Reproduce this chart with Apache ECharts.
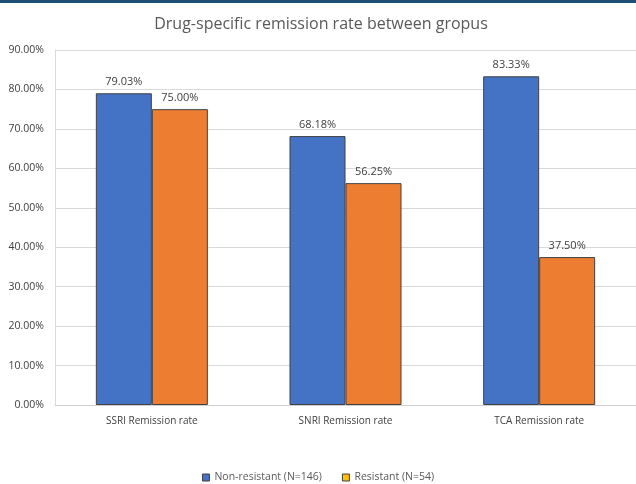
<!DOCTYPE html>
<html>
<head>
<meta charset="utf-8">
<script src="https://cdn.jsdelivr.net/npm/echarts@6/dist/echarts.min.js"></script>
<style>
  html, body { margin: 0; padding: 0; background: #ffffff; }
  #chart { width: 636px; height: 484px; }
</style>
</head>
<body>
<div id="chart"></div>
<script>
// Remission rate (%) per drug class, by resistance group
const categories = ['SSRI Remission rate', 'SNRI Remission rate', 'TCA Remission rate'];
const nonResistant = [79.03, 68.18, 83.33];
const resistant = [75.00, 56.25, 37.50];
const seriesNames = ['Non-resistant (N=146)', 'Resistant (N=54)'];
const yTicks = { min: 0, max: 90, step: 10 };

const FONT = '"Open Sans", "Noto Sans", sans-serif';
const chart = echarts.init(document.getElementById('chart'), null, { renderer: 'canvas' });

const labelStyle = {
  show: true,
  position: 'top',
  distance: 6,
  color: '#404040',
  fontSize: 11,
  fontFamily: FONT,
  formatter: p => p.value.toFixed(2) + '%'
};

chart.setOption({
  animation: false,
  backgroundColor: '#ffffff',
  textStyle: { fontFamily: FONT },
  graphic: [{
    type: 'rect',
    shape: { x: 0, y: 0, width: 636, height: 3 },
    style: { fill: '#1f4e79' }
  }],
  title: {
    text: 'Drug-specific remission rate between gropus',
    left: 316,
    textAlign: 'center',
    top: 11,
    textStyle: { color: '#595959', fontSize: 16, fontWeight: 'normal', fontFamily: FONT }
  },
  legend: {
    top: 467,
    left: 'center',
    itemWidth: 7,
    itemHeight: 7,
    itemGap: 20,
    icon: 'rect',
    textStyle: { color: '#595959', fontSize: 10.5, fontFamily: FONT },
    data: [
      { name: seriesNames[0], itemStyle: { color: '#4472c4', borderColor: '#404040', borderWidth: 1 } },
      { name: seriesNames[1], itemStyle: { color: '#ffc000', borderColor: '#404040', borderWidth: 1 } }
    ]
  },
  grid: { left: 55, right: -1, top: 50, bottom: 79, containLabel: false },
  xAxis: {
    type: 'category',
    data: categories,
    axisLine: { show: true, lineStyle: { color: '#d0d0d0', width: 1 } },
    axisTick: { show: false },
    axisLabel: { color: '#404040', fontSize: 10, margin: 11, fontFamily: FONT }
  },
  yAxis: {
    type: 'value',
    min: yTicks.min,
    max: yTicks.max,
    interval: yTicks.step,
    axisLine: { show: true, lineStyle: { color: '#d9d9d9', width: 1 } },
    axisTick: { show: false },
    splitLine: { lineStyle: { color: '#d9d9d9', width: 1 } },
    axisLabel: { color: '#404040', fontSize: 10.5, margin: 11, fontFamily: FONT, formatter: v => v.toFixed(2) + '%' }
  },
  series: [
    {
      name: seriesNames[0],
      type: 'bar',
      data: nonResistant,
      barWidth: 56,
      barGap: '0%',
      itemStyle: { color: '#4472c4', borderColor: '#404040', borderWidth: 1 },
      label: labelStyle
    },
    {
      name: seriesNames[1],
      type: 'bar',
      data: resistant,
      barWidth: 56,
      barGap: '0%',
      itemStyle: { color: '#ed7d31', borderColor: '#404040', borderWidth: 1 },
      label: labelStyle
    }
  ]
});
</script>
</body>
</html>
